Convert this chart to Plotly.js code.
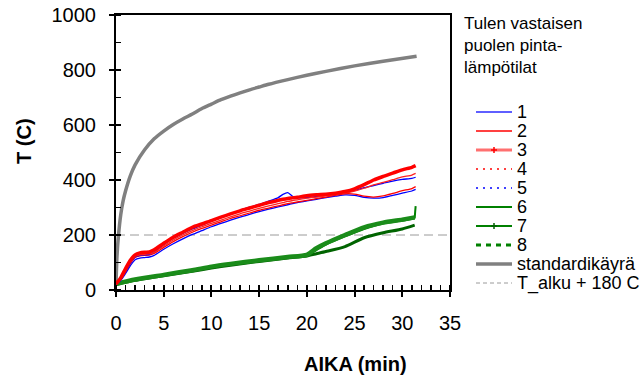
<!DOCTYPE html>
<html>
<head>
<meta charset="utf-8">
<script src="https://cdn.plot.ly/plotly-3.0.1.min.js"></script>
<style>
html,body{margin:0;padding:0;background:#fff;}
#chart{width:644px;height:379px;}
</style>
</head>
<body>
<div id="chart"></div>
<script>
// ---------- DATA ----------
const legendTitle = "Tulen vastaisen<br>puolen pinta-<br>lämpötilat";
const seriesNames = ["1","2","3","4","5","6","7","8","standardikäyrä","T_alku + 180 C"];
const xTickVals = [0,5,10,15,20,25,30,35];
const yTickVals = [0,200,400,600,800,1000];

// time (min) for red/blue group
const tRB = [0,0.5,1,1.5,2,2.5,3,3.5,4,5,6,7,8,9,10,11,12,13,14,15,16,17,17.5,18,18.5,19,20,21,22,23,24,25,26,27,28,29,30,31,31.4];
const s1 = [20,40,68,98,120,126,128,130,138,165,188,206,222,236,250,263,277,290,301,311,323,336,348,354,341,335,336,340,344,348,354,362,372,380,388,396,402,406,410];
const s2 = [20,40,70,100,122,128,130,131,137,160,182,200,216,230,242,254,266,277,287,297,306,314,318,322,325,328,334,338,342,347,352,360,370,382,391,401,411,418,424];
const s3 = [22,45,78,108,128,135,137,138,146,170,192,210,228,240,252,265,277,288,298,308,318,326,330,333,335,337,343,346,348,352,358,368,383,400,413,425,437,446,452];
const s4 = [20,38,66,96,118,124,126,127,133,155,176,194,210,224,236,248,260,270,280,290,298,306,310,314,317,320,326,332,338,344,350,349,341,338,342,351,361,369,376];
const s5 = [20,35,60,88,110,116,118,120,126,148,168,186,202,216,230,242,254,265,275,285,294,302,306,310,314,318,324,330,336,341,346,344,337,334,336,344,352,360,366];

// time (min) for green group
const tG = [0,2,5,8,10,12,15,18,20,21,22,24,26,28,30,31.3];
const s6 = [20,36,53,70,83,93,106,118,126,145,165,195,222,242,252,260];
const s7 = [22,38,55,72,85,95,108,120,128,152,170,200,228,245,256,264];
const s8 = [20,35,52,68,80,90,104,116,124,132,140,158,190,208,222,236];
const s6EndT = [31.3,31.35,31.4];
const s6EndV = [260,285,305];

// standard fire curve
const tStd = [0,0.1,0.25,0.5,0.75,1,1.5,2,3,4,5,6,7,8,9,10,11,12,13,14,15,16,18,20,22,25,28,31.5];
const vStd = [20,120,195,275,325,360,415,455,510,550,578,602,622,640,660,676,692,705,717,728,738,748,765,781,795,815,832,850];

// T_alku + 180
const tLim = [0,35];
const vLim = [200,200];

// ---------- GEOMETRY HELPERS ----------
const L=116, R=450, T=15, B=290;
const px = x => (x-L)/(R-L);
const py = y => (B-y)/(B-T);
const FONT = "Arial, 'Liberation Sans', sans-serif";

function ln(x,y,color,width,extra){
  return Object.assign({x:x,y:y,mode:'lines',type:'scatter',showlegend:false,hoverinfo:'skip',
    line:{color:color,width:width,shape:'spline',smoothing:0.6}},extra||{});
}

const traces = [
  ln(tLim,vLim,'#9a9a9a',1,{line:{color:'#9a9a9a',width:1,dash:'9px,5px'}}),
  ln(tStd,vStd,'#808080',3.5),
  ln(tG,s8,'#006400',3),
  ln(tG,s6,'#008000',2),
  ln(s6EndT,s6EndV,'#008000',2),
  ln(tG,s7,'#1a8c1a',4.5),
  ln(tRB,s5,'#0000ff',1.3),
  ln(tRB,s4,'#ff0000',1.3),
  ln(tRB,s1,'#0000ff',1.3),
  ln(tRB,s2,'#ff2020',1.3),
  ln(tRB,s3,'#ff0000',3.5),
  {x:[null],y:[null],xaxis:'x2',yaxis:'y2',type:'scatter',mode:'lines',showlegend:false,hoverinfo:'skip'}
];

// ---------- MANUAL LEGEND ----------
const shapes = [];
const annotations = [];
annotations.push({xref:'paper',yref:'paper',x:px(462),y:py(12),xanchor:'left',yanchor:'top',align:'left',
  showarrow:false,text:legendTitle,font:{family:FONT,size:17,color:'#000'}});
const legStyle = [
  {c:'#2a2aff',w:1.5},
  {c:'#ff0000',w:1.5},
  {c:'#ff7070',w:3,mk:'#ff0000'},
  {c:'#ff0000',w:1.5,d:'2px,5px'},
  {c:'#0000ff',w:1.5,d:'2px,5px'},
  {c:'#008000',w:2},
  {c:'#008000',w:2,mk:'#006000'},
  {c:'#008000',w:3,d:'5px,5px'},
  {c:'#808080',w:3.5},
  {c:'#9a9a9a',w:1,d:'4px,3px'}
];
seriesNames.forEach((nm,i)=>{
  const yy = 112 + i*19;
  const s = legStyle[i];
  shapes.push({type:'line',xref:'paper',yref:'paper',x0:px(476),x1:px(512),y0:py(yy),y1:py(yy),
    line:{color:s.c,width:s.w,dash:s.d||'solid'}});
  if(s.mk){
    shapes.push({type:'line',xref:'paper',yref:'paper',x0:px(491),x1:px(497),y0:py(yy),y1:py(yy),line:{color:s.mk,width:1.5}});
    shapes.push({type:'line',xref:'paper',yref:'paper',x0:px(494),x1:px(494),y0:py(yy-3),y1:py(yy+3),line:{color:s.mk,width:1.5}});
  }
  annotations.push({xref:'paper',yref:'paper',x:px(515),y:py(yy),xanchor:'left',yanchor:'middle',
    showarrow:false,text:nm,font:{family:FONT,size:18,color:'#000'}});
});
// axis titles
annotations.push({xref:'paper',yref:'paper',x:px(24),y:py(141),xanchor:'center',yanchor:'middle',textangle:-90,
  showarrow:false,text:'<b>T (C)</b>',font:{family:FONT,size:20,color:'#000'}});
annotations.push({xref:'paper',yref:'paper',x:px(355),y:py(364),xanchor:'center',yanchor:'middle',
  showarrow:false,text:'<b>AIKA (min)</b>',font:{family:FONT,size:20,color:'#000'}});

const axBase = {showgrid:false,zeroline:false,fixedrange:true};
const layout = {
  width:644,height:379,
  margin:{l:L,r:644-R,t:T,b:379-B,pad:0},
  paper_bgcolor:'#fff',plot_bgcolor:'#fff',
  showlegend:false,
  font:{family:FONT,size:20,color:'#000'},
  xaxis:Object.assign({},axBase,{range:[0,35],tickvals:xTickVals,ticks:'outside',ticklen:5,tickwidth:2,tickcolor:'#000',
    showline:true,linewidth:2,linecolor:'#000',mirror:true,ticklabelstandoff:9,
    tickfont:{family:FONT,size:20,color:'#000'},
    minor:{dtick:1,ticks:'inside',ticklen:5,tickwidth:1.5,tickcolor:'#000',showgrid:false}}),
  yaxis:Object.assign({},axBase,{range:[0,1000],tickvals:yTickVals,ticks:'outside',ticklen:5,tickwidth:2,tickcolor:'#000',
    showline:true,linewidth:2,linecolor:'#000',mirror:true,ticklabelstandoff:9,
    tickfont:{family:FONT,size:20,color:'#000'},
    minor:{dtick:100,ticks:'inside',ticklen:5,tickwidth:1.5,tickcolor:'#000',showgrid:false}}),
  xaxis2:Object.assign({},axBase,{range:[0,35],overlaying:'x',anchor:'y2',side:'bottom',tickvals:xTickVals,ticks:'inside',ticklen:5,tickwidth:2,
    tickcolor:'#000',showticklabels:false,showline:false}),
  yaxis2:Object.assign({},axBase,{range:[0,1000],overlaying:'y',anchor:'x2',side:'left',tickvals:yTickVals,ticks:'inside',ticklen:5,tickwidth:2,
    tickcolor:'#000',showticklabels:false,showline:false}),
  shapes:shapes,
  annotations:annotations
};
Plotly.newPlot('chart',traces,layout,{displayModeBar:false,staticPlot:true});
</script>
</body>
</html>
